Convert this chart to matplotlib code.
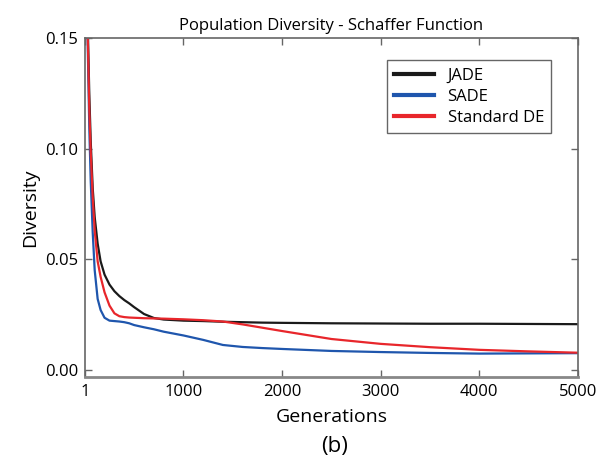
import matplotlib
matplotlib.use("Agg")
import matplotlib.pyplot as plt

plt.rcParams["font.family"] = ["Open Sans", "DejaVu Sans"]

# generation index and diversity
GENS = [1, 20, 30, 45, 60, 80, 100, 130, 160, 200, 250, 300, 350, 400, 450, 500,
        600, 700, 800, 1000, 1200, 1400, 1600, 1800, 2000, 2500, 3000, 3500, 4000, 4500, 5000]
JADE = [0.35, 0.20, 0.155, 0.125, 0.103, 0.082, 0.069, 0.057, 0.049, 0.043, 0.0385, 0.0355,
        0.0333, 0.0315, 0.030, 0.0283, 0.0252, 0.0234, 0.0227, 0.0222, 0.022, 0.0217, 0.0215,
        0.0213, 0.0212, 0.021, 0.0209, 0.0208, 0.0208, 0.0207, 0.0206]
SADE = [0.35, 0.19, 0.145, 0.11, 0.085, 0.062, 0.045, 0.032, 0.027, 0.0235, 0.0222, 0.022,
        0.0218, 0.0215, 0.021, 0.0202, 0.0192, 0.0183, 0.0172, 0.0155, 0.0135, 0.0112, 0.0103,
        0.0098, 0.0094, 0.0085, 0.008, 0.0076, 0.0073, 0.0074, 0.0075]
STD_DE = [0.35, 0.20, 0.15, 0.118, 0.098, 0.078, 0.063, 0.049, 0.042, 0.035, 0.029, 0.0255,
          0.0242, 0.0238, 0.0236, 0.0235, 0.0233, 0.0232, 0.0231, 0.0228, 0.0224, 0.0218, 0.0205,
          0.019, 0.0175, 0.0139, 0.0117, 0.0102, 0.009, 0.0083, 0.0077]
XTICKS = [1, 1000, 2000, 3000, 4000, 5000]
YTICKS = [0.00, 0.05, 0.10, 0.15]

fig = plt.figure(figsize=(6.11, 4.74), dpi=100)
ax = fig.add_axes([0.139, 0.205, 0.807, 0.715])

ax.plot(GENS, JADE, color="#1a1a1a", lw=1.6, label="JADE")
ax.plot(GENS, SADE, color="#1f56ad", lw=1.6, label="SADE")
ax.plot(GENS, STD_DE, color="#e8262b", lw=1.6, label="Standard DE")

ax.set_xlim(1, 5000)
ax.set_ylim(-0.0032, 0.15)
ax.set_xticks(XTICKS)
ax.set_xticklabels([str(t) for t in XTICKS])
ax.set_yticks(YTICKS)
ax.set_yticklabels(["%.2f" % t for t in YTICKS])
ax.tick_params(direction="in", length=5, width=1, color="#666666", labelsize=12,
               top=True, right=True, pad=5)
for sp in ax.spines.values():
    sp.set_color("#666666")
    sp.set_linewidth(1.2)
ax.spines["bottom"].set_linewidth(2)
ax.spines["bottom"].set_color("#888888")

ax.set_title("Population Diversity - Schaffer Function", fontsize=12, pad=6)
ax.set_xlabel("Generations", fontsize=14, labelpad=6)
ax.set_ylabel("Diversity", fontsize=14, labelpad=4)

leg = ax.legend(loc="upper right", bbox_to_anchor=(0.963, 0.958), fontsize=12,
                fancybox=False, framealpha=1, edgecolor="#666666",
                handlelength=2.4, borderpad=0.45, labelspacing=0.3)
leg.get_frame().set_linewidth(1.0)
for line in leg.get_lines():
    line.set_linewidth(3)

fig.text(0.548, 0.058, "(b)", ha="center", va="center", fontsize=16)

fig.savefig("out.png", dpi=100)
